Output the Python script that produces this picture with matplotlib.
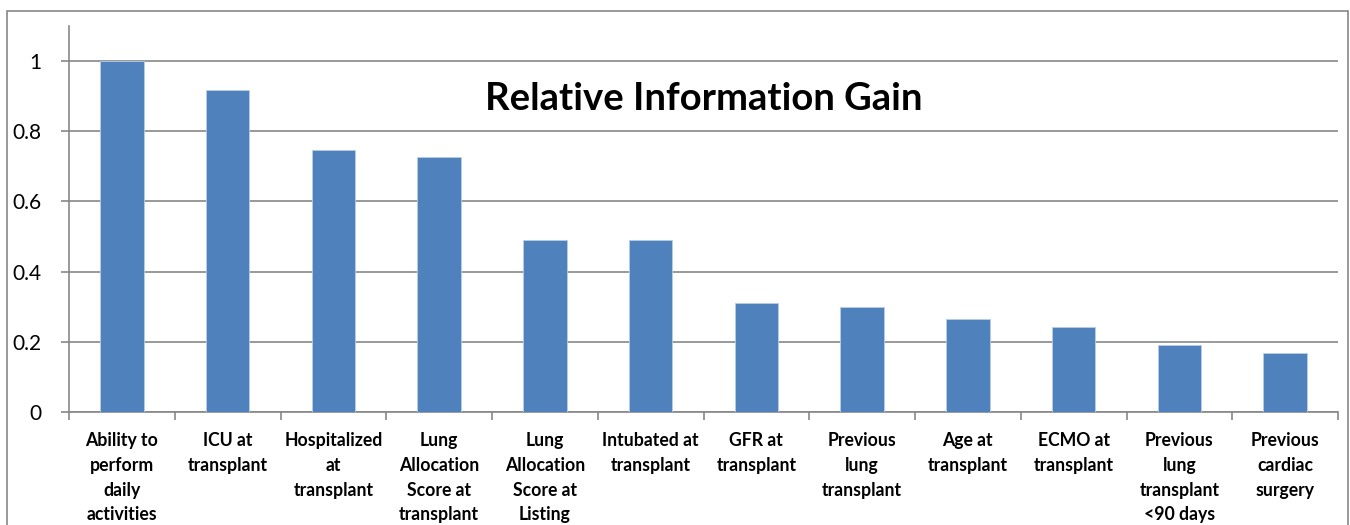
import matplotlib
matplotlib.use('Agg')
import matplotlib.pyplot as plt
import numpy as np
from matplotlib.patches import Rectangle

plt.rcParams['font.family'] = ['Lato', 'DejaVu Sans']

categories = ['Ability to\nperform\ndaily\nactivities', 'ICU at\ntransplant', 'Hospitalized\nat\ntransplant',
              'Lung\nAllocation\nScore at\ntransplant', 'Lung\nAllocation\nScore at\nListing',
              'Intubated at\ntransplant', 'GFR at\ntransplant', 'Previous\nlung\ntransplant',
              'Age at\ntransplant', 'ECMO at\ntransplant', 'Previous\nlung\ntransplant\n<90 days',
              'Previous\ncardiac\nsurgery']
gain = [1.0, 0.917, 0.746, 0.726, 0.49, 0.49, 0.31, 0.299, 0.265, 0.242, 0.191, 0.168]
yticks = [0, 0.2, 0.4, 0.6, 0.8, 1]
ytick_labels = ['0', '0.2', '0.4', '0.6', '0.8', '1']

grey = '#878787'
fig = plt.figure(figsize=(13.5, 5.25), dpi=100)
ax = fig.add_axes([69/1350, 1-412/525, (1338-69)/1350, (412-26)/525])

x = np.arange(len(categories))
ax.bar(x, gain, width=0.41, color='#4F81BD', edgecolor='#B9CDE5', linewidth=0.6, zorder=3)

ax.set_xlim(-0.5, len(categories)-0.5)
ax.set_ylim(0, 1.1)
ax.set_yticks(yticks)
ax.set_yticklabels(ytick_labels, fontsize=15)
ax.yaxis.grid(True, color=grey, linewidth=1.2, zorder=0)

ax.set_xticks(x)
ax.set_xticklabels(categories, fontsize=12.7, fontweight='bold', linespacing=1.55, va='top')
ax.set_xticks(np.arange(-0.5, len(categories), 1), minor=True)
ax.tick_params(axis='x', which='major', length=0, pad=14.5)
ax.tick_params(axis='x', which='minor', length=6, color=grey, width=1.2)
ax.tick_params(axis='y', length=6, color=grey, width=1.2, pad=14)

for s in ['top', 'right']:
    ax.spines[s].set_visible(False)
ax.spines['left'].set_color(grey)
ax.spines['left'].set_linewidth(1.2)
ax.spines['bottom'].set_color(grey)
ax.spines['bottom'].set_linewidth(1.2)

ax.text(0.5, 0.81, 'Relative Information Gain', transform=ax.transAxes, ha='center', va='center',
        fontsize=27.5, fontweight='bold')

fig.patches.append(Rectangle((7/1350, -0.1), (1348-7)/1350, 1.1-11/525, transform=fig.transFigure,
                             fill=False, edgecolor=grey, linewidth=1.2))

fig.savefig('out.png', dpi=100)
